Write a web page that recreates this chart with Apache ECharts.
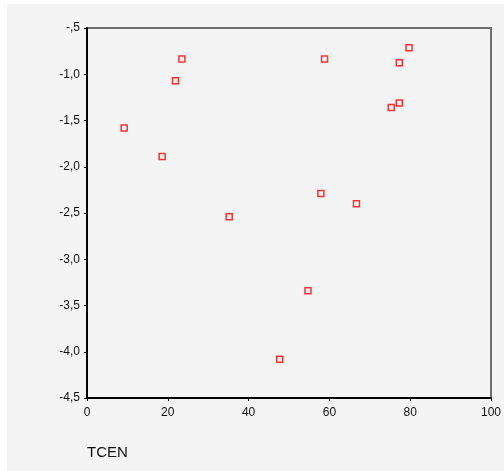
<!DOCTYPE html>
<html><head><meta charset="utf-8">
<script src="https://cdn.jsdelivr.net/npm/echarts@6/dist/echarts.min.js"></script>
<style>html,body{margin:0;padding:0;background:#fff}#c{width:504px;height:471px}</style>
</head><body><div id="c"></div>
<script>
var tcen = [9.2, 18.6, 21.9, 23.5, 35.2, 47.7, 54.7, 57.9, 58.8, 66.7, 75.3, 77.3, 77.3, 79.7];
var yVals = [-1.58, -1.89, -1.07, -0.835, -2.54, -4.08, -3.34, -2.29, -0.835, -2.40, -1.36, -1.31, -0.875, -0.713];
var xTickLabels = ['0', '20', '40', '60', '80', '100'];
var yTickValues = [-4.5, -4.0, -3.5, -3.0, -2.5, -2.0, -1.5, -1.0, -0.5];
var yTickLabels = ['-4,5', '-4,0', '-3,5', '-3,0', '-2,5', '-2,0', '-1,5', '-1,0', '-,5'];
var xName = 'TCEN';

var chart = echarts.init(document.getElementById('c'), null, {renderer: 'canvas'});
var pts = tcen.map(function (x, i) { return [x, yVals[i]]; });
function yLab(v) {
  for (var i = 0; i < yTickValues.length; i++) if (Math.abs(yTickValues[i] - v) < 1e-6) return yTickLabels[i];
  return '';
}
chart.setOption({
  backgroundColor: '#ffffff',
  animation: false,
  graphic: [{type: 'rect', z: -10, shape: {x: 7, y: 4, width: 497, height: 467}, style: {fill: '#f4f4f4'}},
            {type: 'text', left: 87, top: 445, style: {text: xName, font: '15px "Liberation Sans", Arial, sans-serif', fill: '#111'}}],
  grid: {left: 87, right: 13, top: 28, bottom: 73, show: true, backgroundColor: '#f4f4f4', borderColor: '#6e6e6e', borderWidth: 2},
  xAxis: {
    type: 'value', min: 0, max: 100, interval: 20,
    axisLine: {show: true, lineStyle: {color: '#000', width: 2}},
    axisTick: {show: true, length: 3, lineStyle: {color: '#000'}},
    splitLine: {show: false},
    axisLabel: {color: '#111', fontFamily: '"Liberation Sans", Arial, sans-serif', fontSize: 12, margin: 9,
      formatter: function (v) { return xTickLabels[Math.round(v / 20)]; }}
  },
  yAxis: {
    type: 'value', min: -4.5, max: -0.5, interval: 0.5,
    axisLine: {show: true, onZero: false, lineStyle: {color: '#000', width: 2}},
    axisTick: {show: true, length: 3, lineStyle: {color: '#000'}},
    splitLine: {show: false},
    axisLabel: {color: '#111', fontFamily: '"Liberation Sans", Arial, sans-serif', fontSize: 12, margin: 7, formatter: yLab}
  },
  series: [{
    type: 'scatter', data: pts, symbol: 'rect', symbolSize: 6,
    itemStyle: {color: 'rgba(0,0,0,0)', borderColor: '#ff0000', borderWidth: 1.5}
  }]
});
</script></body></html>
